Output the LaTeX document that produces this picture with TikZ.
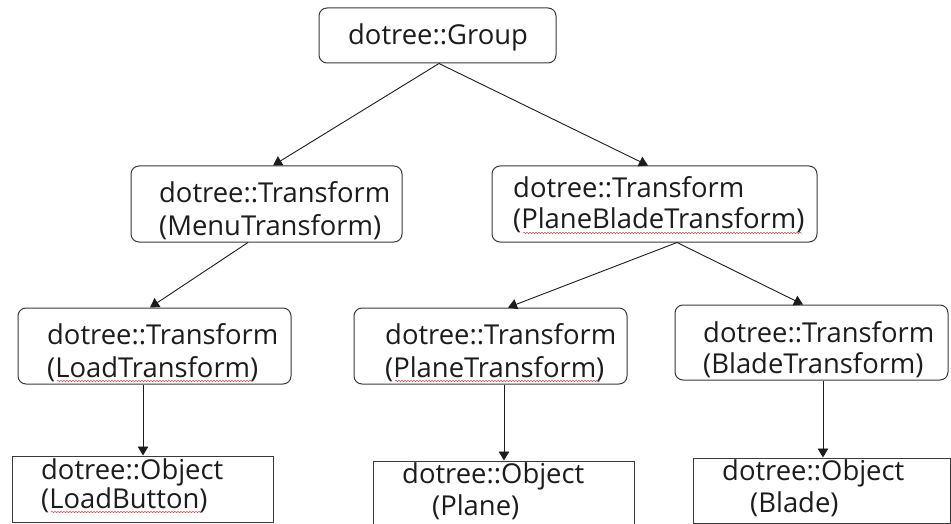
\documentclass[tikz,border=0pt]{standalone}
\usepackage{fontspec}
\setmainfont{Open Sans}
\usetikzlibrary{arrows.meta,decorations.pathmorphing}
\definecolor{ink}{HTML}{1C1C1C}
\definecolor{edge}{HTML}{3A3A3A}
\definecolor{squig}{HTML}{D05050}
\tikzset{
  rbox/.style={draw=edge, line width=1pt, rounded corners=8pt, inner sep=0pt, minimum width=#1},
  sbox/.style={draw=edge, line width=1pt, inner sep=0pt, minimum width=#1},
  txt/.style={anchor=base west, inner sep=0pt, text=ink, font=\fontsize{27.4}{32}\selectfont},
  conn/.style={draw=ink, line width=0.9pt, -{Triangle[length=9pt,width=10.5pt]}},
  wavy/.style={draw=squig, line width=0.5pt, decorate, decoration={snake, amplitude=0.7pt, segment length=3pt}}
}
\begin{document}
\begin{tikzpicture}[x=1pt,y=-1pt]
\clip (0,0) rectangle (951,524);
\fill[white] (0,0) rectangle (951,524);
% boxes
\node[rbox=237pt, minimum height=55pt] (grp) at (437.5,35.5) {};
\node[rbox=271pt, minimum height=76pt] (menu) at (266.5,204) {};
\node[rbox=325pt, minimum height=76pt] (pbt) at (654.5,204) {};
\node[rbox=273pt, minimum height=76pt] (load) at (154.5,346) {};
\node[rbox=273pt, minimum height=76pt] (pt) at (490.5,346) {};
\node[rbox=273pt, minimum height=75pt] (bt) at (811.5,342.5) {};
\node[sbox=261pt, minimum height=66pt] (lbtn) at (142.5,489) {};
\node[sbox=261pt, minimum height=80pt] (plane) at (503.5,501) {};
\node[sbox=257pt, minimum height=65pt] (blade) at (821.5,490.5) {};
% texts
\node[txt] (tg) at (348,45) {dotree::Group};
\node[txt] (tm1) at (159,203) {dotree::Transform};
\node[txt] (tm2) at (159,235) {(MenuTransform)};
\node[txt] (tp1) at (513,197) {dotree::Transform};
\node[txt] (tp2) at (513,229) {(PlaneBladeTransform)};
\node[txt] (tl1) at (47,344) {dotree::Transform};
\node[txt] (tl2) at (47,377) {(LoadTransform)};
\node[txt] (tq1) at (385,344) {dotree::Transform};
\node[txt] (tq2) at (385,377) {(PlaneTransform)};
\node[txt] (tb1) at (703,342) {dotree::Transform};
\node[txt] (tb2) at (703,373) {(BladeTransform)};
\node[txt] (to1) at (41,479) {dotree::Object};
\node[txt] (to2) at (41,508) {(LoadButton)};
\node[txt] (tn1) at (402,483) {dotree::Object};
\node[txt] (tn2) at (432,515) {(Plane)};
\node[txt] (tc1) at (722,480) {dotree::Object};
\node[txt] (tc2) at (750,512) {(Blade)};
% spell-check squiggles
\coordinate (s1a) at (523,233); \coordinate (s1b) at (802,233);
\coordinate (s2a) at (57,381); \coordinate (s2b) at (252,381);
\coordinate (s3a) at (51,512); \coordinate (s3b) at (202,512);
\coordinate (s4a) at (395,381); \coordinate (s4b) at (600,381);
\draw[wavy] (s1a) -- (s1b);
\draw[wavy] (s2a) -- (s2b);
\draw[wavy] (s3a) -- (s3b);
\draw[wavy] (s4a) -- (s4b);
% connectors
\draw[conn] ([xshift=1.5pt]grp.south) -- ([xshift=6.5pt]menu.north);
\draw[conn] ([xshift=1.5pt]grp.south) -- ([xshift=-6.5pt]pbt.north);
\draw[conn] ([xshift=-18.5pt]menu.south) -- ([xshift=-4.5pt]load.north);
\draw[conn] ([xshift=22.5pt]pbt.south) -- ([xshift=17.5pt]pt.north);
\draw[conn] ([xshift=22.5pt]pbt.south) -- ([xshift=-8.5pt]bt.north);
\draw[conn] ([xshift=-11.5pt]load.south) -- ([xshift=0.5pt]lbtn.north);
\draw[conn] ([xshift=13.5pt]pt.south) -- ([xshift=0.5pt]plane.north);
\draw[conn] ([xshift=11.5pt]bt.south) -- ([xshift=1.5pt]blade.north);
\end{tikzpicture}
\end{document}
